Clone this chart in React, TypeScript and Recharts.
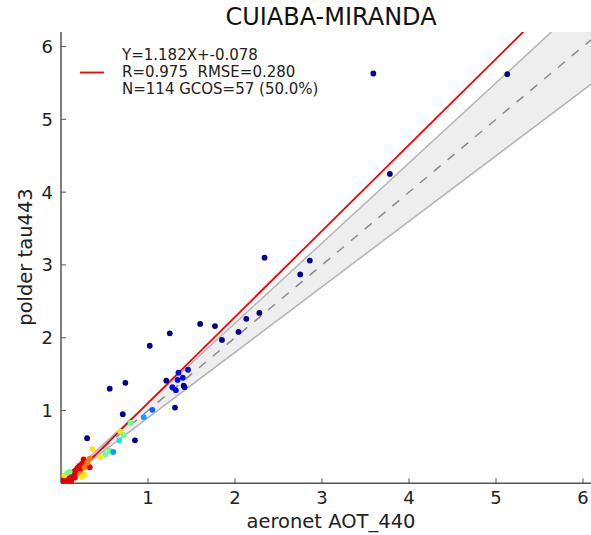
import React from 'react';
import { ComposedChart, XAxis, YAxis, Line, Area, Scatter } from 'recharts';

// tick labels
const xTicks = [1, 2, 3, 4, 5, 6];
const yTicks = [1, 2, 3, 4, 5, 6];

// reference lines
const oneToOne = [{ x: 0, y: 0 }, { x: 6.2, y: 6.2 }];
const fitLine = [{ x: 0, y: -0.078 }, { x: 6.2, y: 7.25 }];
const bandX = [0, 0.3, 6.2];
const bandLow = [-0.03, 0.27, 5.58];
const bandHigh = [0.03, 0.33, 6.82];

// points grouped by density colour [aeronet, polder]
const navyPts = [
  [3.59, 5.63], [5.13, 5.62], [3.78, 4.25], [2.34, 3.1], [2.86, 3.06], [2.75, 2.87],
  [2.28, 2.34], [2.13, 2.26], [2.04, 2.08], [1.85, 1.97], [1.77, 2.16], [1.6, 2.19],
  [1.25, 2.06], [1.02, 1.89], [0.56, 1.3], [0.74, 1.38], [0.71, 0.95], [0.3, 0.62],
  [0.85, 0.59], [1.31, 1.04], [1.21, 1.41], [1.41, 1.34],
];
const bluePts = [
  [1.46, 1.56], [1.35, 1.52], [1.34, 1.42], [1.4, 1.45], [1.42, 1.32], [1.28, 1.32], [1.32, 1.28],
];
const azurePts = [[1.05, 1.01]];
const lightBluePts = [[0.95, 0.91], [0.6, 0.43]];
const cyanPts = [[0.67, 0.59]];
const greenPts = [[0.8, 0.83], [0.72, 0.66], [0.56, 0.45], [0.51, 0.4], [0.07, 0.14], [0.1, 0.16]];
const yellowPts = [[0.68, 0.71], [0.36, 0.47], [0.45, 0.36], [0.24, 0.09], [0.04, 0.11], [0.27, 0.12]];
const orangePts = [[0.27, 0.22], [0.22, 0.13], [0.33, 0.34], [0.3, 0.28]];
const redPts = [
  [0.03, 0.04], [0.05, 0.06], [0.06, 0.03], [0.08, 0.07], [0.09, 0.1], [0.1, 0.06],
  [0.11, 0.12], [0.12, 0.09], [0.13, 0.14], [0.14, 0.11], [0.15, 0.16], [0.16, 0.13],
  [0.17, 0.18], [0.18, 0.15], [0.19, 0.21], [0.2, 0.17], [0.21, 0.24], [0.22, 0.19],
  [0.24, 0.27], [0.26, 0.33], [0.28, 0.25], [0.31, 0.24], [0.33, 0.22], [0.12, 0.04], [0.16, 0.08],
];

const groups = [
  { pts: redPts, color: '#e00000' },
  { pts: orangePts, color: '#ff7a00' },
  { pts: yellowPts, color: '#ffe600' },
  { pts: greenPts, color: '#6cff8a' },
  { pts: cyanPts, color: '#10e4f0' },
  { pts: lightBluePts, color: '#00a4ff' },
  { pts: azurePts, color: '#0064ff' },
  { pts: bluePts, color: '#0008e8' },
  { pts: navyPts, color: '#00008c' },
];

const bandData = bandX.map((x, i) => ({ x, range: [bandLow[i], bandHigh[i]] }));

const FONT = '"DejaVu Sans", sans-serif';
const AXIS = '#555';

const BottomTick = (p: any) => (
  <g>
    <line x1={p.x} x2={p.x} y1={p.y} y2={p.y - 5} stroke={AXIS} />
    <text x={p.x} y={p.y + 21} textAnchor="middle" fontSize={18} fontFamily={FONT} fill="#222">
      {p.payload.value}
    </text>
  </g>
);

const TopTick = (p: any) => (
  <line x1={p.x} x2={p.x} y1={p.y} y2={p.y + 5} stroke={AXIS} />
);

const LeftTick = (p: any) => (
  <g>
    <line x1={p.x} x2={p.x + 5} y1={p.y} y2={p.y} stroke={AXIS} />
    <text x={p.x - 8} y={p.y + 6.5} textAnchor="end" fontSize={18} fontFamily={FONT} fill="#222">
      {p.payload.value}
    </text>
  </g>
);

const dot = (color: string) => (props: any) => (
  <circle cx={props.cx} cy={props.cy} r={2.9} fill={color} />
);

export default function App() {
  return (
    <div style={{ position: 'absolute', left: 0, top: 0, width: 591, height: 535, overflow: 'hidden', background: '#fff' }}>
      <ComposedChart width={610} height={535} margin={{ top: 32, right: 9.6, bottom: 0, left: 0 }}>
        <XAxis
          xAxisId={0}
          dataKey="x"
          type="number"
          domain={[0, 6.2]}
          ticks={xTicks}
          allowDataOverflow
          height={51.7}
          tickSize={0}
          tickMargin={0}
          tickLine={false}
          tick={BottomTick}
          stroke={AXIS}
          strokeWidth={1.5}
        />
        <XAxis
          xAxisId="top"
          orientation="top"
          dataKey="x"
          type="number"
          domain={[0, 6.2]}
          ticks={xTicks}
          height={0}
          tickSize={0}
          tickMargin={0}
          tickLine={false}
          tick={TopTick}
          stroke={AXIS}
          strokeWidth={1.5}
        />
        <YAxis
          dataKey="y"
          type="number"
          domain={[0, 6.2]}
          ticks={yTicks}
          allowDataOverflow
          width={61}
          tickSize={0}
          tickMargin={0}
          tickLine={false}
          tick={LeftTick}
          stroke={AXIS}
          strokeWidth={1.5}
        />
        <Area
          data={bandData}
          dataKey="range"
          type="linear"
          stroke="#b4b4b4"
          strokeWidth={1.5}
          fill="#eeeeee"
          fillOpacity={1}
          isAnimationActive={false}
          dot={false}
          activeDot={false}
        />
        <Line
          data={oneToOne}
          dataKey="y"
          type="linear"
          stroke="#8a8a8a"
          strokeWidth={1.5}
          strokeDasharray="9 9"
          dot={false}
          activeDot={false}
          isAnimationActive={false}
        />
        {groups.map((g, i) => (
          <Scatter
            key={i}
            data={g.pts.map(([x, y]) => ({ x, y }))}
            dataKey="y"
            shape={dot(g.color)}
            isAnimationActive={false}
          />
        ))}
        <Line
          data={fitLine}
          dataKey="y"
          type="linear"
          stroke="#ff0000"
          strokeWidth={1.8}
          dot={false}
          activeDot={false}
          isAnimationActive={false}
        />
      </ComposedChart>
      <svg width={591} height={535} style={{ position: 'absolute', left: 0, top: 0, pointerEvents: 'none' }} fontFamily={FONT}>
        <text x={331} y={25} textAnchor="middle" fontSize={24} fill="#111">CUIABA-MIRANDA</text>
        <line x1={80} x2={104} y1={72.5} y2={72.5} stroke="#ff0000" strokeWidth={1.8} />
        <text x={122} y={59.5} fontSize={15} fill="#222">Y=1.182X+-0.078</text>
        <text x={122} y={76.5} fontSize={15} fill="#222" style={{ whiteSpace: 'pre' }}>R=0.975  RMSE=0.280</text>
        <text x={122} y={93.5} fontSize={15} fill="#222">N=114 GCOS=57 (50.0%)</text>
        <text x={331} y={528} textAnchor="middle" fontSize={19.5} fill="#222">aeronet AOT_440</text>
        <text x={0} y={0} transform="translate(32,257) rotate(-90)" textAnchor="middle" fontSize={19.5} fill="#222">polder tau443</text>
      </svg>
    </div>
  );
}
